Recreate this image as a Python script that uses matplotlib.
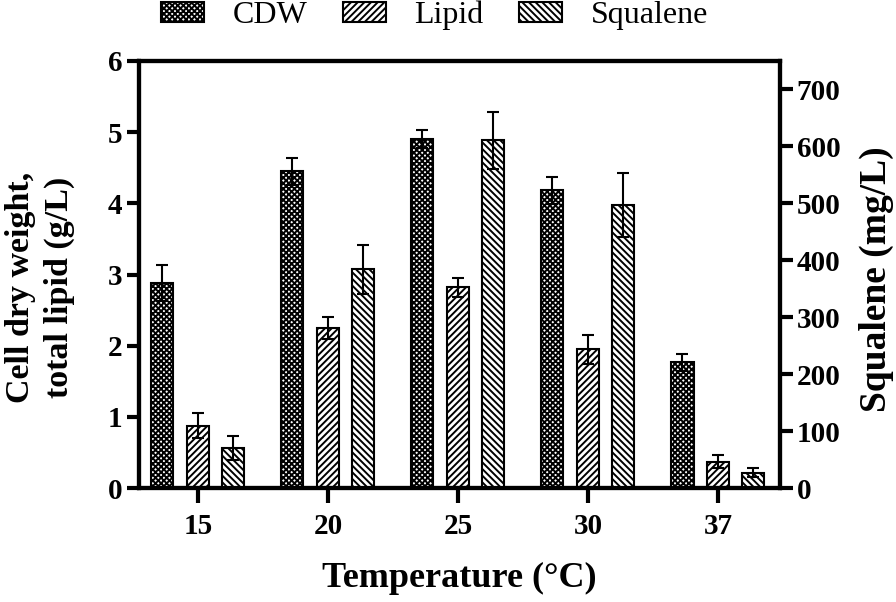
import matplotlib
matplotlib.use("Agg")
import matplotlib.pyplot as plt
import numpy as np

# datos
temperaturas = ["15", "20", "25", "30", "37"]
cdw = [2.88, 4.45, 4.90, 4.18, 1.77]
cdw_err = [0.25, 0.19, 0.13, 0.19, 0.12]
lipido = [0.88, 2.25, 2.82, 1.95, 0.37]
lipido_err = [0.17, 0.15, 0.13, 0.20, 0.09]
escualeno = [71, 384, 611, 497, 27]
escualeno_err = [21, 43, 50, 57, 8]

plt.rcParams["font.family"] = ["Liberation Serif", "DejaVu Serif"]
plt.rcParams["hatch.linewidth"] = 1.4
plt.rcParams["axes.linewidth"] = 3

fig = plt.figure(figsize=(8.96, 6.02), dpi=100)
ax = fig.add_axes([0.155, 0.189, 0.7155, 0.710])
ax2 = ax.twinx()

x = np.arange(len(temperaturas))
ancho = 0.17
desp = 0.273
err_kw = dict(elinewidth=1.5, capsize=4.5, capthick=1.5, ecolor="black")

b1 = ax.bar(x - desp, cdw, ancho, yerr=cdw_err, color="white", edgecolor="black",
            linewidth=1.5, hatch="xxxxxx", error_kw=err_kw, label="CDW")
b2 = ax.bar(x, lipido, ancho, yerr=lipido_err, color="white", edgecolor="black",
            linewidth=1.5, hatch="/////", error_kw=err_kw, label="Lipid")
b3 = ax2.bar(x + desp, escualeno, ancho, yerr=escualeno_err, color="white", edgecolor="black",
             linewidth=1.5, hatch="\\\\\\\\\\", error_kw=err_kw, label="Squalene")

ax.set_xlim(-0.454, 4.477)
ax.set_ylim(0, 6)
ax2.set_ylim(0, 750)
ax.set_yticks(range(0, 7))
ax2.set_yticks(range(0, 701, 100))
ax.set_xticks(x)
ax.set_xticklabels(temperaturas)

for a in (ax, ax2):
    a.tick_params(axis="both", width=3, length=9, labelsize=21, pad=3)
    for lab in a.get_yticklabels() + a.get_xticklabels():
        lab.set_fontweight("bold")
ax.tick_params(axis="x", length=11, pad=7)

ax.set_xlabel("Temperature (°C)", fontsize=26, fontweight="bold", va="center")
ax.xaxis.set_label_coords(0.5, -0.211)
ax.set_ylabel("Cell dry weight,\ntotal lipid (g/L)", fontsize=24.5, fontweight="bold",
              linespacing=1.35, va="center")
ax.yaxis.set_label_coords(-0.154, 0.47)
ax2.set_ylabel("Squalene (mg/L)", fontsize=27, fontweight="bold", va="center")
ax2.yaxis.set_label_coords(1.15, 0.49)

fig.legend(handles=[b1, b2, b3], loc="center", bbox_to_anchor=(0.485, 0.974), ncol=3,
           frameon=False, fontsize=23, handlelength=1.35, handleheight=0.56,
           handletextpad=0.9, columnspacing=1.1)

fig.savefig("out.png", dpi=100)
